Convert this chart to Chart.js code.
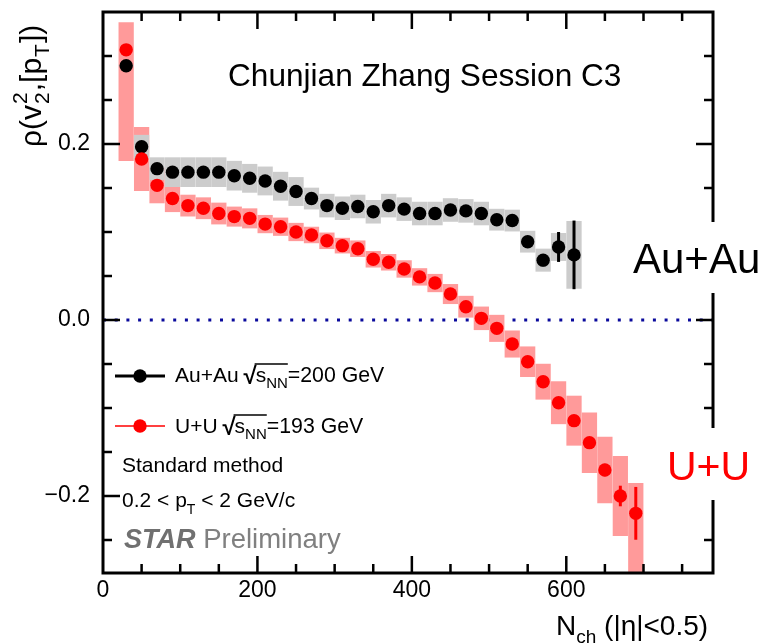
<!DOCTYPE html>
<html>
<head>
<meta charset="utf-8">
<script src="https://cdn.jsdelivr.net/npm/chart.js@4"></script>
<style>
  body { margin: 0; background: #fff; }
  canvas { display: block; }
</style>
</head>
<body>
<canvas id="myChart" width="764" height="643"></canvas>
<script>
"use strict";
const FONT = "'Liberation Sans', Arial, Helvetica, sans-serif";

// Au+Au 200 GeV
const auauNch = [30, 50, 70, 90, 110, 130, 150, 170, 190, 210, 230, 250, 270, 290, 310, 330, 350, 370, 390, 410, 430, 450, 470, 490, 510, 530, 550, 570, 590, 610];
const auauRho = [0.289, 0.197, 0.172, 0.168, 0.168, 0.168, 0.168, 0.164, 0.161, 0.158, 0.152, 0.146, 0.138, 0.130, 0.127, 0.129, 0.123, 0.130, 0.126, 0.121, 0.121, 0.125, 0.124, 0.121, 0.114, 0.113, 0.089, 0.068, 0.083, 0.074];
const auauSys = [0, 0.013, 0.0125, 0.0165, 0.0165, 0.0165, 0.0165, 0.0165, 0.016, 0.016, 0.016, 0.016, 0.012, 0.013, 0.013, 0.013, 0.013, 0.013, 0.013, 0.013, 0.013, 0.013, 0.013, 0.013, 0.012, 0.012, 0.012, 0.0127, 0.0155, 0.038];
const auauStat = [0.003, 0.003, 0.003, 0.003, 0.003, 0.003, 0.003, 0.003, 0.003, 0.003, 0.003, 0.003, 0.003, 0.003, 0.003, 0.003, 0.003, 0.003, 0.003, 0.003, 0.003, 0.003, 0.003, 0.004, 0.004, 0.005, 0.006, 0.007, 0.017, 0.039];

// U+U 193 GeV
const uuNch = [30, 50, 70, 90, 110, 130, 150, 170, 190, 210, 230, 250, 270, 290, 310, 330, 350, 370, 390, 410, 430, 450, 470, 490, 510, 530, 550, 570, 590, 610, 630, 650, 670, 690];
const uuRho = [0.307, 0.183, 0.153, 0.138, 0.130, 0.127, 0.121, 0.1175, 0.1155, 0.109, 0.106, 0.100, 0.0966, 0.090, 0.0845, 0.081, 0.069, 0.0656, 0.058, 0.049, 0.042, 0.0295, 0.0151, 0.0019, -0.0095, -0.0273, -0.0474, -0.0701, -0.094, -0.1144, -0.1394, -0.1705, -0.200, -0.2197];
const uuSysUp = [0.031, 0.036, 0.020, 0.015, 0.012, 0.012, 0.012, 0.011, 0.011, 0.010, 0.010, 0.010, 0.009, 0.009, 0.0085, 0.009, 0.009, 0.009, 0.0095, 0.0095, 0.010, 0.011, 0.012, 0.013, 0.015, 0.015, 0.017, 0.020, 0.024, 0.028, 0.034, 0.0375, 0.045, 0.034];
const uuSysDown = [0.126, 0.036, 0.020, 0.015, 0.012, 0.012, 0.012, 0.011, 0.011, 0.010, 0.010, 0.010, 0.009, 0.009, 0.0085, 0.009, 0.009, 0.009, 0.0095, 0.0095, 0.010, 0.011, 0.012, 0.013, 0.015, 0.015, 0.017, 0.020, 0.024, 0.028, 0.034, 0.0375, 0.045, 0.075];
const uuStat = [0.003, 0.003, 0.003, 0.003, 0.003, 0.003, 0.003, 0.003, 0.003, 0.003, 0.003, 0.003, 0.003, 0.003, 0.003, 0.003, 0.003, 0.003, 0.003, 0.003, 0.003, 0.003, 0.003, 0.003, 0.003, 0.004, 0.004, 0.004, 0.005, 0.005, 0.006, 0.007, 0.0117, 0.030];

// axes
const xMin = 0, xMax = 790;
const yMin = -0.2875, yMax = 0.35;
const xTickLabels = [0, 200, 400, 600];
const yTickLabels = [-0.2, 0.0, 0.2];

// draws a run of text pieces (sub/superscripts), returns end x
function drawRich(ctx, x, y, parts, color) {
  let cx = x;
  parts.forEach(function (p) {
    ctx.font = `${p.style || ""} ${p.size}px ${FONT}`;
    ctx.fillStyle = p.color || color;
    ctx.fillText(p.t, cx, y + (p.dy || 0));
    if (!p.stack) cx += ctx.measureText(p.t).width + (p.gap || 0);
  });
  return cx;
}

function drawSqrtS(ctx, x, y, color) {
  ctx.font = `bold 24px ${FONT}`;
  ctx.fillStyle = color;
  ctx.fillText("\u221A", x - 1, y + 2);
  const rx = x - 2 + ctx.measureText("\u221A").width;
  const end = drawRich(ctx, rx, y, [
    { t: "s", size: 21 },
    { t: "NN", size: 15, dy: 6 },
  ], color);
  ctx.strokeStyle = color;
  ctx.lineWidth = 1.5;
  ctx.beginPath();
  ctx.moveTo(rx - 1, y - 18);
  ctx.lineTo(end, y - 18);
  ctx.stroke();
  return end;
}

const framePlugin = {
  id: "frame",
  afterDatasetsDraw(chart) {
    const { ctx, chartArea: a, scales } = chart;
    const xs = scales.x, ys = scales.y;
    ctx.save();

    // stat error bars
    ctx.lineWidth = 3;
    ctx.strokeStyle = "#000";
    auauNch.forEach(function (n, i) {
      const px = xs.getPixelForValue(n);
      ctx.beginPath();
      ctx.moveTo(px, ys.getPixelForValue(auauRho[i] - auauStat[i]));
      ctx.lineTo(px, ys.getPixelForValue(auauRho[i] + auauStat[i]));
      ctx.stroke();
    });
    ctx.strokeStyle = "#ff0000";
    uuNch.forEach(function (n, i) {
      const px = xs.getPixelForValue(n);
      ctx.beginPath();
      ctx.moveTo(px, ys.getPixelForValue(uuRho[i] - uuStat[i]));
      ctx.lineTo(px, ys.getPixelForValue(uuRho[i] + uuStat[i]));
      ctx.stroke();
    });

    // frame + inward ticks
    ctx.strokeStyle = "#000";
    ctx.lineWidth = 3;
    ctx.strokeRect(a.left, a.top, a.right - a.left, a.bottom - a.top);
    ctx.lineWidth = 2.5;
    for (let v = 50; v < xMax; v += 50) {
      const px = xs.getPixelForValue(v);
      const len = v % 200 === 0 ? 17 : 9;
      ctx.beginPath();
      ctx.moveTo(px, a.bottom);
      ctx.lineTo(px, a.bottom - len);
      ctx.moveTo(px, a.top);
      ctx.lineTo(px, a.top + len);
      ctx.stroke();
    }
    for (let k = -5; k <= 6; k++) {
      const py = ys.getPixelForValue(k * 0.05);
      const len = k % 4 === 0 ? 17 : 9;
      ctx.beginPath();
      ctx.moveTo(a.left, py);
      ctx.lineTo(a.left + len, py);
      ctx.moveTo(a.right, py);
      ctx.lineTo(a.right - len, py);
      ctx.stroke();
    }

    // axis titles
    ctx.textBaseline = "alphabetic";
    ctx.textAlign = "left";
    drawRich(ctx, 556, 635, [
      { t: "N", size: 28 },
      { t: "ch", size: 19, dy: 8 },
      { t: " (|\u03B7|<0.5)", size: 28 },
    ], "#000");

    ctx.save();
    ctx.translate(41, 147);
    ctx.rotate(-Math.PI / 2);
    drawRich(ctx, 0, 0, [
      { t: "\u03C1(v", size: 30, gap: 1 },
      { t: "2", size: 21, dy: -14, stack: true },
      { t: "2", size: 21, dy: 8, gap: 1 },
      { t: ",[p", size: 30, gap: 1 },
      { t: "T", size: 21, dy: 8, gap: 1 },
      { t: "])", size: 30 },
    ], "#000");
    ctx.restore();

    // texts inside the frame
    drawRich(ctx, 228, 86, [{ t: "Chunjian Zhang Session C3", size: 31.6 }], "#000");

    // legend
    ctx.lineWidth = 3;
    ctx.strokeStyle = "#000";
    ctx.beginPath();
    ctx.moveTo(115, 376);
    ctx.lineTo(165, 376);
    ctx.stroke();
    ctx.fillStyle = "#000";
    ctx.beginPath();
    ctx.arc(140, 376, 6.7, 0, Math.PI * 2);
    ctx.fill();
    let ex = drawRich(ctx, 175, 382, [{ t: "Au+Au ", size: 21 }], "#000");
    ex = drawSqrtS(ctx, ex, 382, "#000");
    drawRich(ctx, ex, 382, [{ t: "=200 GeV", size: 21.3 }], "#000");

    ctx.strokeStyle = "#ff0000";
    ctx.beginPath();
    ctx.moveTo(115, 426);
    ctx.lineTo(165, 426);
    ctx.stroke();
    ctx.fillStyle = "#ff0000";
    ctx.beginPath();
    ctx.arc(140, 426, 6.7, 0, Math.PI * 2);
    ctx.fill();
    ex = drawRich(ctx, 175, 433, [{ t: "U+U ", size: 21 }], "#000");
    ex = drawSqrtS(ctx, ex, 433, "#000");
    drawRich(ctx, ex, 433, [{ t: "=193 GeV", size: 21.3 }], "#000");

    drawRich(ctx, 122, 472, [{ t: "Standard method", size: 21 }], "#000");
    drawRich(ctx, 122, 507, [
      { t: "0.2 < p", size: 21 },
      { t: "T", size: 14, dy: 7 },
      { t: " < 2 GeV/c", size: 21 },
    ], "#000");
    drawRich(ctx, 124, 548, [
      { t: "STAR", size: 27, style: "italic bold", color: "#707070" },
      { t: " Preliminary", size: 27.5, color: "#808080" },
    ], "#808080");

    // system labels on the right, covering the frame
    ctx.fillStyle = "#fff";
    ctx.fillRect(626, 222, 138, 71);
    ctx.fillRect(660, 428, 104, 72);
    drawRich(ctx, 633, 273, [{ t: "Au+Au", size: 42 }], "#000");
    drawRich(ctx, 667, 480, [{ t: "U+U", size: 41 }], "#ff0000");

    ctx.restore();
  },
};

const noPad = (s) => {
  s.paddingTop = 0;
  s.paddingBottom = 0;
  s.paddingLeft = 0;
  s.paddingRight = 0;
};

const ctx = document.getElementById("myChart").getContext("2d");
const myChart = new Chart(ctx, {
  type: "scatter",
  data: {
    datasets: [
      {
        type: "scatter",
        label: "U+U",
        data: uuNch.map((n, i) => ({ x: n, y: uuRho[i] })),
        backgroundColor: "#ff0000",
        pointRadius: 6.7,
        pointBorderWidth: 0,
        order: 1,
      },
      {
        type: "scatter",
        label: "Au+Au",
        data: auauNch.map((n, i) => ({ x: n, y: auauRho[i] })),
        backgroundColor: "#000",
        pointRadius: 6.7,
        pointBorderWidth: 0,
        order: 2,
      },
      {
        type: "bar",
        label: "Au+Au sys",
        data: auauNch.map((n, i) => ({ x: n, y: [auauRho[i] - auauSys[i], auauRho[i] + auauSys[i]] })),
        backgroundColor: "#cccccc",
        borderWidth: 0,
        barThickness: 14.6,
        grouped: false,
        order: 3,
      },
      {
        type: "bar",
        label: "U+U sys",
        data: uuNch.map((n, i) => ({ x: n, y: [uuRho[i] - uuSysDown[i], uuRho[i] + uuSysUp[i]] })),
        backgroundColor: "#ff9a9a",
        borderWidth: 0,
        barThickness: 14.6,
        grouped: false,
        order: 4,
      },
      {
        type: "line",
        label: "zero",
        data: [{ x: xMin, y: 0 }, { x: xMax, y: 0 }],
        borderColor: "#0a0a9c",
        borderWidth: 3,
        borderDash: [3, 8.7],
        pointRadius: 0,
        order: 5,
      },
    ],
  },
  options: {
    responsive: false,
    animation: false,
    devicePixelRatio: 1,
    layout: { padding: { top: 12, right: 51, left: 0, bottom: 0 } },
    plugins: { legend: { display: false }, tooltip: { enabled: false } },
    scales: {
      x: {
        type: "linear",
        min: xMin,
        max: xMax,
        offset: false,
        grid: { display: false, offset: false },
        border: { display: false },
        afterFit: (s) => { s.height = 70; noPad(s); },
        afterBuildTicks: (s) => { s.ticks = xTickLabels.map((v) => ({ value: v })); },
        ticks: {
          color: "#000",
          padding: -4,
          maxRotation: 0,
          font: { family: FONT, size: 23 },
          callback: (v) => String(v),
        },
      },
      y: {
        type: "linear",
        min: yMin,
        max: yMax,
        grid: { display: false, tickLength: 0 },
        border: { display: false },
        afterFit: (s) => { s.width = 103; noPad(s); },
        afterBuildTicks: (s) => { s.ticks = yTickLabels.map((v) => ({ value: v })); },
        ticks: {
          color: "#000",
          padding: 13,
          font: { family: FONT, size: 23 },
          callback: (v) => (Math.abs(v) < 1e-9 ? "0.0" : v < 0 ? "\u2212" + Math.abs(v).toFixed(1) : v.toFixed(1)),
        },
      },
    },
  },
  plugins: [framePlugin],
});
</script>
</body>
</html>
